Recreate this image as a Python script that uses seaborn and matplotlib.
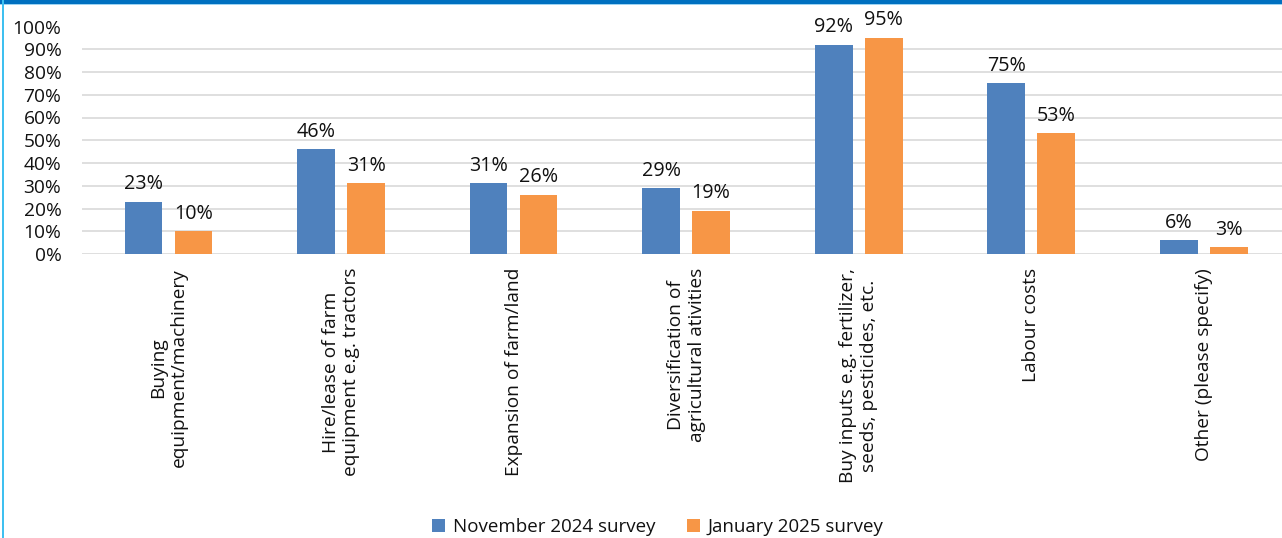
import matplotlib
matplotlib.use("Agg")
import matplotlib.pyplot as plt
import matplotlib.patches as mpatches
import seaborn as sns
import pandas as pd
from matplotlib.ticker import MultipleLocator, PercentFormatter

# Categories of spending and share of respondents per survey round
categories = [
    "Buying\nequipment/machinery",
    "Hire/lease of farm\nequipment e.g. tractors",
    "Expansion of farm/land",
    "Diversification of\nagricultural ativities",
    "Buy inputs e.g. fertilizer,\nseeds, pesticides, etc.",
    "Labour costs",
    "Other (please specify)",
]
nov_2024 = [23, 46, 31, 29, 92, 75, 6]
jan_2025 = [10, 31, 26, 19, 95, 53, 3]
series_names = ["November 2024 survey", "January 2025 survey"]
colors = ["#4F81BD", "#F79646"]

df = pd.DataFrame({
    "category": categories * 2,
    "value": nov_2024 + jan_2025,
    "survey": [series_names[0]] * len(categories) + [series_names[1]] * len(categories),
})

sns.set_theme(style="white")
plt.rcParams["font.family"] = ["Open Sans", "DejaVu Sans"]

fig = plt.figure(figsize=(12.82, 5.38), dpi=100)
ax = fig.add_axes([82.25 / 1282, 1 - 254 / 538, (1290 - 82.25) / 1282, (254 - 26.5) / 538])

sns.barplot(data=df, x="category", y="value", hue="survey", palette=colors,
            width=0.58, gap=0.245, ax=ax, legend=False, saturation=1,
            edgecolor="none")

ax.set_xlim(-0.5, len(categories) - 0.5)
ax.set_ylim(0, 100)
ax.yaxis.set_major_locator(MultipleLocator(10))
ax.yaxis.set_major_formatter(PercentFormatter(decimals=0))
ax.grid(axis="y", color="#DCDCDC", linewidth=1.3)
ax.set_axisbelow(True)
for s in ax.spines.values():
    s.set_visible(False)
ax.set_xlabel("")
ax.set_ylabel("")
ax.tick_params(axis="y", length=0, pad=15, labelsize=13.8, labelcolor="#111111")
ax.tick_params(axis="x", length=0, pad=10, labelsize=13.8, labelcolor="#111111")
for lbl in ax.get_xticklabels():
    lbl.set_rotation(90)
    lbl.set_ha("center")
    lbl.set_va("top")
    lbl.set_multialignment("center")

# Value labels above each bar
for container in ax.containers:
    for rect in container:
        h = rect.get_height()
        ax.annotate(f"{h:.0f}%", (rect.get_x() + rect.get_width() / 2, h),
                    xytext=(0, 9), textcoords="offset points",
                    ha="center", va="baseline", fontsize=14.2, color="#111111")

handles = [mpatches.Patch(facecolor=c, edgecolor="none") for c in colors]
fig.legend(handles, series_names, loc="center", bbox_to_anchor=(658 / 1282, 1 - 527 / 538),
           ncol=2, frameon=False, fontsize=13.5, handlelength=0.7, handleheight=0.7,
           handletextpad=0.4, columnspacing=1.7, labelcolor="#111111")

# Frame accents along the top and left edges
fig.patches.append(mpatches.Rectangle((0, 1 - 3.5 / 538), 1, 3.5 / 538, transform=fig.transFigure,
                                      facecolor="#0070C0", edgecolor="none", zorder=5))
fig.patches.append(mpatches.Rectangle((0, 1 - 4.5 / 538), 1, 1 / 538, transform=fig.transFigure,
                                      facecolor="#9DD3F2", edgecolor="none", zorder=5))
fig.patches.append(mpatches.Rectangle((2 / 1282, 0), 1.8 / 1282, 1, transform=fig.transFigure,
                                      facecolor="#3FC0F0", edgecolor="none", zorder=5))

fig.savefig("out.png", dpi=100)
